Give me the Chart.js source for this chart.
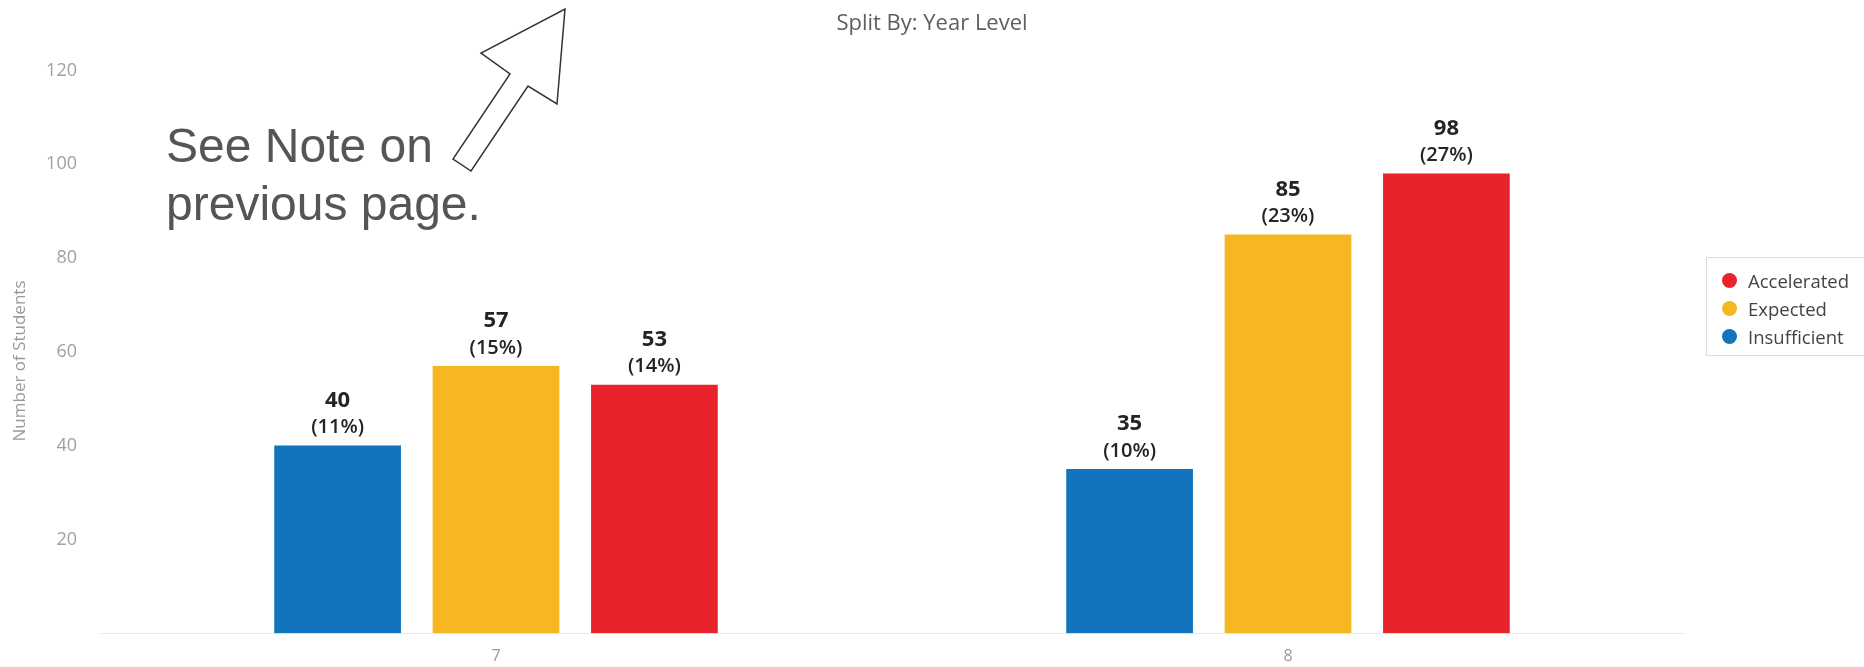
<!DOCTYPE html>
<html>
<head>
<meta charset="utf-8">
<title>Split By: Year Level</title>
<script src="https://cdn.jsdelivr.net/npm/chart.js@4.4.1/dist/chart.umd.min.js"></script>
<style>
  html, body { margin: 0; padding: 0; background: #fff; }
  #wrap { position: relative; width: 1864px; height: 667px; }
  #legend {
    position: absolute; left: 1706px; top: 257px; width: 170px; height: 99px;
    box-sizing: border-box; border: 1px solid #dcdcdc;
    font: 18.5px 'Open Sans', sans-serif; color: #444;
  }
  #legend ul { list-style: none; margin: 0; padding: 8px 0 0 0; }
  #legend li { display: flex; align-items: center; height: 28px; white-space: nowrap; }
  #legend .dot { width: 15px; height: 15px; border-radius: 50%; margin: 0 11px 0 15px; }
</style>
</head>
<body>
<div id="wrap">
  <canvas id="yearChart"></canvas>
  <div id="legend"></div>
</div>
<script>
// Students per year level, split by progress band
const yearLevels   = ['7', '8'];
const insufficient = [40, 35];
const expected     = [57, 85];
const accelerated  = [53, 98];
const yTicks       = [20, 40, 60, 80, 100, 120];

const COLORS = {
  insufficient: '#1174BD',
  expected:     '#F6B723',
  accelerated:  '#E8232C',
};

const total = [...insufficient, ...expected, ...accelerated].reduce((a, b) => a + b, 0);

Chart.defaults.font.family = "'Open Sans', sans-serif";
Chart.defaults.color = '#999';

// value + share of all students above each bar
const barLabels = {
  id: 'barLabels',
  afterDatasetsDraw(chart) {
    const ctx = chart.ctx;
    ctx.save();
    ctx.textAlign = 'center';
    ctx.textBaseline = 'middle';
    ctx.fillStyle = '#252423';
    chart.data.datasets.forEach((ds, i) => {
      chart.getDatasetMeta(i).data.forEach((bar, j) => {
        const v = ds.data[j];
        ctx.font = "700 22px 'Open Sans'";
        ctx.fillText(String(v), bar.x, bar.y - 45);
        ctx.font = "600 20px 'Open Sans'";
        ctx.fillText('(' + Math.round(v / total * 100) + '%)', bar.x, bar.y - 18);
      });
    });
    ctx.restore();
  },
};

// page caption, y axis caption and the handwritten-style note with its arrow
const notes = {
  id: 'notes',
  afterDraw(chart) {
    const ctx = chart.ctx;
    ctx.save();

    ctx.textAlign = 'center';
    ctx.textBaseline = 'middle';
    ctx.fillStyle = '#605E5C';
    ctx.font = "22px 'Open Sans'";
    ctx.fillText('Split By: Year Level', chart.width / 2, 24);

    ctx.fillStyle = '#999';
    ctx.font = "17px 'Open Sans'";
    ctx.translate(20, 361);
    ctx.rotate(-Math.PI / 2);
    ctx.fillText('Number of Students', 0, 0);
    ctx.setTransform(1, 0, 0, 1, 0, 0);

    ctx.fillStyle = '#555';
    ctx.font = "48px 'Liberation Sans', Arial, sans-serif";
    ctx.textAlign = 'left';
    ctx.textBaseline = 'alphabetic';
    ctx.fillText('See Note on', 166, 162);
    ctx.fillText('previous page.', 166, 220);

    const arrow = [[565, 9], [557, 104], [528, 86], [471, 171], [453, 159], [510, 74], [481, 53]];
    ctx.beginPath();
    arrow.forEach(([x, y], k) => (k ? ctx.lineTo(x, y) : ctx.moveTo(x, y)));
    ctx.closePath();
    ctx.fillStyle = '#fff';
    ctx.fill();
    ctx.lineWidth = 1.5;
    ctx.strokeStyle = '#333';
    ctx.stroke();
    ctx.restore();
  },
};

const chart = new Chart(document.getElementById('yearChart'), {
  type: 'bar',
  data: {
    labels: yearLevels,
    datasets: [
      { label: 'Insufficient', data: insufficient, backgroundColor: COLORS.insufficient },
      { label: 'Expected',     data: expected,     backgroundColor: COLORS.expected },
      { label: 'Accelerated',  data: accelerated,  backgroundColor: COLORS.accelerated },
    ],
  },
  options: {
    responsive: true, maintainAspectRatio: false,
    animation: false,
    layout: { padding: { left: 0, right: 180, top: 47, bottom: 0 } },
    datasets: { bar: { categoryPercentage: 0.6, barPercentage: 0.8 } },
    plugins: {
      legend: { display: false },
      tooltip: { enabled: false },
    },
    scales: {
      x: {
        grid: { display: false, drawTicks: false },
        border: { display: true, color: '#e8e8e8', dash: [1, 6] },
        afterFit: s => { s.height = 33; },
        ticks: { padding: 14, font: { size: 16 }, color: '#999' },
      },
      y: {
        min: 0, max: 125,
        grid: { display: false, drawTicks: false },
        border: { display: false },
        afterBuildTicks: s => { s.ticks = yTicks.map(value => ({ value })); },
        afterFit: s => { s.width = 100; },
        ticks: { padding: 23, font: { size: 18 }, color: '#a0a0a0' },
      },
    },
  },
  plugins: [barLabels, notes],
});

// legend listed top-down in reverse series order
const ul = document.createElement('ul');
[...chart.data.datasets].reverse().forEach(ds => {
  const li = document.createElement('li');
  const dot = document.createElement('span');
  dot.className = 'dot';
  dot.style.background = ds.backgroundColor;
  li.appendChild(dot);
  li.appendChild(document.createTextNode(ds.label));
  ul.appendChild(li);
});
document.getElementById('legend').appendChild(ul);
</script>
</body>
</html>
